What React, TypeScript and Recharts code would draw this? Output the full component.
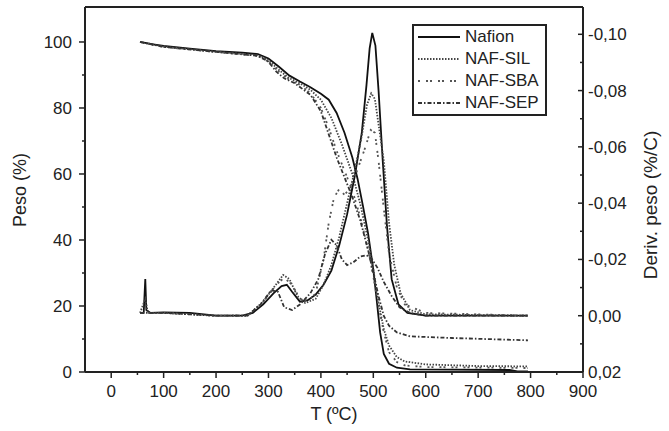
import { ComposedChart, Line, XAxis, YAxis, ReferenceLine, Legend } from 'recharts';

// TGA: temperature (ºC) vs weight (%)
const nafionTga: [number, number][] = [
  [55, 100], [80, 99.3], [100, 98.8], [150, 98], [200, 97.2], [250, 96.8], [280, 96.3], [300, 95],
  [320, 92.5], [340, 89.8], [360, 88], [380, 86.3], [400, 84.3], [415, 82.5], [430, 78.5], [445, 72.5],
  [460, 65], [470, 58.5], [480, 50.5], [490, 42], [500, 31], [507, 21], [513, 12], [520, 5.5],
  [530, 2.5], [545, 1.3], [570, 0.8], [650, 0.7], [760, 0.6], [775, 0.2], [795, 0.2],
];
const silTga: [number, number][] = [
  [55, 100], [100, 98.6], [200, 97], [280, 96], [300, 94.5], [320, 91.5], [340, 89], [360, 87.5],
  [380, 85.5], [400, 82.5], [420, 77], [440, 69], [460, 60], [475, 51], [490, 40], [500, 31],
  [510, 21], [520, 13], [530, 8], [545, 4.5], [560, 3.2], [600, 2.3], [700, 1.8], [795, 1.7],
];
const sbaTga: [number, number][] = [
  [55, 100], [100, 98.5], [200, 97], [280, 95.8], [300, 94], [320, 91], [340, 88.5], [360, 87],
  [380, 84.5], [400, 80], [415, 74], [430, 67], [445, 61], [460, 55], [475, 47], [490, 37],
  [500, 29], [510, 20], [520, 12], [530, 6], [545, 3], [560, 2], [600, 1.5], [795, 1.2],
];
const sepTga: [number, number][] = [
  [55, 100], [100, 98.5], [200, 97], [280, 95.8], [300, 94], [315, 91], [330, 89], [350, 87.5],
  [380, 84], [400, 79], [415, 72], [430, 65], [445, 59], [460, 53], [475, 46], [490, 37],
  [500, 30], [510, 23], [520, 17], [530, 14], [545, 12], [570, 10.8], [650, 10.3], [795, 9.6],
];

// DTG: temperature (ºC) vs derivative (%/C)
const nafionDtg: [number, number][] = [
  [55, -0.001], [62, -0.001], [65, -0.013], [67, -0.002], [75, -0.001], [100, -0.0012], [150, -0.001],
  [200, 0], [250, 0], [270, -0.001], [290, -0.004], [310, -0.008], [325, -0.0105], [335, -0.011],
  [345, -0.0085], [360, -0.005], [375, -0.0055], [390, -0.0075], [405, -0.011], [420, -0.016],
  [435, -0.025], [450, -0.036], [465, -0.05], [478, -0.065], [487, -0.082], [493, -0.095],
  [498, -0.1005], [504, -0.096], [510, -0.08], [518, -0.055], [526, -0.032], [535, -0.013],
  [548, -0.004], [565, -0.001], [600, 0], [795, 0],
];
const silDtg: [number, number][] = [
  [55, -0.001], [65, -0.006], [70, -0.001], [100, -0.001], [200, 0], [260, 0], [290, -0.005],
  [310, -0.01], [328, -0.0145], [340, -0.013], [355, -0.007], [370, -0.0045], [390, -0.006],
  [405, -0.011], [420, -0.018], [435, -0.028], [450, -0.04], [465, -0.052], [478, -0.064],
  [488, -0.075], [496, -0.079], [503, -0.077], [510, -0.068], [520, -0.055], [530, -0.033],
  [540, -0.018], [552, -0.008], [570, -0.002], [600, -0.0005], [795, 0],
];
const sbaDtg: [number, number][] = [
  [55, -0.001], [100, -0.001], [200, 0], [260, 0], [290, -0.005], [315, -0.011], [330, -0.0135],
  [345, -0.011], [360, -0.006], [375, -0.005], [390, -0.008], [405, -0.02], [415, -0.033],
  [425, -0.042], [435, -0.045], [445, -0.043], [455, -0.045], [470, -0.052], [485, -0.06],
  [495, -0.066], [503, -0.065], [510, -0.055], [520, -0.038], [530, -0.022], [545, -0.01],
  [560, -0.004], [600, -0.001], [795, 0],
];
const sepDtg: [number, number][] = [
  [55, -0.001], [100, -0.001], [200, 0], [260, 0], [285, -0.004], [305, -0.009], [318, -0.0085],
  [330, -0.003], [345, -0.002], [360, -0.004], [380, -0.008], [395, -0.013], [408, -0.022],
  [420, -0.027], [430, -0.025], [440, -0.02], [450, -0.018], [462, -0.019], [475, -0.021],
  [487, -0.0215], [498, -0.02], [508, -0.017], [520, -0.012], [535, -0.007], [550, -0.003],
  [570, -0.001], [600, 0], [795, 0],
];

const xTicks = [-50, 0, 50, 100, 150, 200, 250, 300, 350, 400, 450, 500, 550, 600, 650, 700, 750, 800, 850, 900];
const wTicks = [0, 10, 20, 30, 40, 50, 60, 70, 80, 90, 100];
const dTicks = [-0.1, -0.09, -0.08, -0.07, -0.06, -0.05, -0.04, -0.03, -0.02, -0.01, 0, 0.01, 0.02];

const series = [
  { name: 'Nafion', tga: nafionTga, dtg: nafionDtg, dash: undefined, color: '#111' },
  { name: 'NAF-SIL', tga: silTga, dtg: silDtg, dash: '1.5 1.5', color: '#444' },
  { name: 'NAF-SBA', tga: sbaTga, dtg: sbaDtg, dash: '2 6 2 2', color: '#555' },
  { name: 'NAF-SEP', tga: sepTga, dtg: sepDtg, dash: '4 2 1.5 2', color: '#333' },
];

const FONT = '"Liberation Sans", Arial, sans-serif';
const INK = '#222';

const toPoints = (arr: [number, number][]) => arr.map(([t, v]) => ({ t, v }));

const XTick = (props: any) => {
  const { x, y, payload } = props;
  const major = payload.value % 100 === 0;
  if (payload.value === -50) return <g />;
  return (
    <g>
      <line x1={x} x2={x} y1={y} y2={y + (major ? 6 : 3)} stroke={INK} strokeWidth={1.5} />
      {major && (
        <text x={x} y={y + 25} textAnchor="middle" fontSize={17} fontFamily={FONT} fill={INK}>
          {payload.value}
        </text>
      )}
    </g>
  );
};

const WTick = (props: any) => {
  const { x, y, payload } = props;
  const major = payload.value % 20 === 0;
  return (
    <g>
      <line x1={x} x2={x - (major ? 6 : 3)} y1={y} y2={y} stroke={INK} strokeWidth={1.5} />
      {major && (
        <text x={x - 13} y={y + 6} textAnchor="end" fontSize={17} fontFamily={FONT} fill={INK}>
          {payload.value}
        </text>
      )}
    </g>
  );
};

const DTick = (props: any) => {
  const { x, y, payload } = props;
  const k = Math.round(payload.value * 100);
  const major = k % 2 === 0;
  return (
    <g>
      <line x1={x} x2={x - (major ? 5 : 3)} y1={y} y2={y} stroke={INK} strokeWidth={1.5} />
      {major && (
        <text x={x + 5} y={y + 6} textAnchor="start" fontSize={17} fontFamily={FONT} fill={INK}>
          {(k / 100).toFixed(2).replace('.', ',')}
        </text>
      )}
    </g>
  );
};

const renderLegend = () => (
  <div
    style={{
      border: `2px solid ${INK}`,
      padding: '0 4px 0 4px',
      background: '#fff',
      fontFamily: FONT,
      fontSize: 17,
      color: INK,
    }}
  >
    {series.map((s) => (
      <div key={s.name} style={{ display: 'flex', alignItems: 'center', height: 22 }}>
        <svg width={44} height={10} style={{ marginRight: 3 }}>
          <line x1={0} x2={42} y1={5} y2={5} stroke={s.color} strokeWidth={s.dash ? 2 : 2.2} strokeDasharray={s.dash} />
        </svg>
        <span>{s.name}</span>
      </div>
    ))}
  </div>
);

export default function App() {
  return (
    <div style={{ position: 'absolute', left: 0, top: 0, width: 669, height: 431, background: '#fff' }}>
      <ComposedChart width={669} height={431} margin={{ top: 7, right: 0, bottom: 0, left: 0 }}>
        <XAxis
          type="number"
          dataKey="t"
          domain={[-50, 900]}
          ticks={xTicks}
          interval={0}
          tickSize={0}
          tickMargin={0}
          tickLine={false}
          tick={<XTick />}
          height={59}
          axisLine={{ stroke: INK, strokeWidth: 2 }}
          allowDataOverflow
          label={{
            content: () => (
              <text x={334} y={420} textAnchor="middle" fontSize={18} fontFamily={FONT} fill={INK}>
                T (ºC)
              </text>
            ),
          }}
        />
        <YAxis
          yAxisId="w"
          type="number"
          domain={[0, 110.6]}
          ticks={wTicks}
          interval={0}
          tickSize={0}
          tickMargin={0}
          tickLine={false}
          tick={<WTick />}
          width={85}
          axisLine={{ stroke: INK, strokeWidth: 2 }}
          allowDataOverflow
          label={{
            content: () => (
              <text x={26} y={190} transform="rotate(-90 26 190)" textAnchor="middle" fontSize={18} fontFamily={FONT} fill={INK}>
                Peso (%)
              </text>
            ),
          }}
        />
        <YAxis
          yAxisId="d"
          orientation="right"
          type="number"
          reversed
          domain={[-0.1097, 0.02]}
          ticks={dTicks}
          interval={0}
          tickSize={0}
          tickMargin={0}
          tickLine={false}
          tick={<DTick />}
          width={86}
          axisLine={{ stroke: INK, strokeWidth: 2 }}
          allowDataOverflow
          label={{
            content: () => (
              <text x={657} y={205} transform="rotate(-90 657 205)" textAnchor="middle" fontSize={19} fontFamily={FONT} fill={INK}>
                Deriv. peso (%/C)
              </text>
            ),
          }}
        />
        <ReferenceLine yAxisId="w" y={110.6} stroke={INK} strokeWidth={2} ifOverflow="visible" />
        {series.map((s) => (
          <Line
            key={`${s.name}-tga`}
            yAxisId="w"
            data={toPoints(s.tga)}
            dataKey="v"
            name={s.name}
            type="linear"
            stroke={s.color}
            strokeWidth={1.8}
            strokeDasharray={s.dash}
            dot={false}
            isAnimationActive={false}
          />
        ))}
        {series.map((s) => (
          <Line
            key={`${s.name}-dtg`}
            yAxisId="d"
            data={toPoints(s.dtg)}
            dataKey="v"
            name={`${s.name} DTG`}
            legendType="none"
            type="linear"
            stroke={s.color}
            strokeWidth={1.8}
            strokeDasharray={s.dash}
            dot={false}
            isAnimationActive={false}
          />
        ))}
        <Legend
          layout="vertical"
          align="center"
          verticalAlign="middle"
          content={renderLegend}
          wrapperStyle={{ left: 412, top: 24, width: 135, height: 'auto' }}
        />
      </ComposedChart>
    </div>
  );
}
